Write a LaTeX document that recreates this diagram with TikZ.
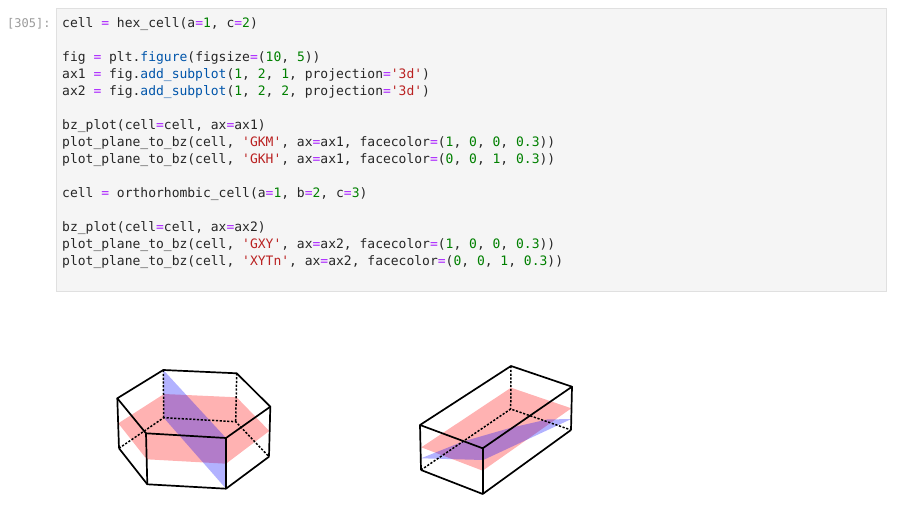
\documentclass[tikz,border=0pt]{standalone}
\usepackage{fontspec}
\setmonofont{DejaVu Sans Mono}
\definecolor{cellbg}{HTML}{F5F5F5}
\definecolor{cellline}{HTML}{E0E0E0}
\definecolor{opcol}{HTML}{AA22FF}
\definecolor{numcol}{HTML}{008000}
\definecolor{strcol}{HTML}{BA2121}
\definecolor{fncol}{HTML}{0055AA}
\definecolor{promptcol}{HTML}{9A9A9A}
\definecolor{redface}{HTML}{FF0000}
\definecolor{blueface}{HTML}{0000FF}
\newcommand{\op}{\textcolor{opcol}{=}}
\newcommand{\nm}[1]{\textcolor{numcol}{#1}}
\newcommand{\st}[1]{\textcolor{strcol}{#1}}
\newcommand{\fn}[1]{\textcolor{fncol}{#1}}

\begin{document}
\begin{tikzpicture}[x=1pt, y=-1pt,
  code/.style={anchor=base west, inner sep=0pt, font=\ttfamily\fontsize{13}{15}\selectfont, text=black!85},
  edge/.style={black, line width=1.7pt},
  hidden/.style={black, line width=1.5pt, dash pattern=on 2.2pt off 1.6pt},
  redplane/.style={fill=redface, fill opacity=0.3, draw=none},
  blueplane/.style={fill=blueface, fill opacity=0.3, draw=none}]

\useasboundingbox (0,0) rectangle (899,526);

% input cell
\draw [cellline, fill=cellbg] (56.5,8.5) rectangle (886.5,291.5);
\node [code, text=promptcol, font=\ttfamily\fontsize{12}{14}\selectfont] (prompt) at (7,27.3) {[305]:};

\node [code] (l1) at (62,27.3) {cell \op{} hex\_cell(a\op\nm{1}, c\op\nm{2})};
\node [code] (l2) at (62,61.3) {fig \op{} plt.\fn{figure}(figsize\op(\nm{10}, \nm{5}))};
\node [code] (l3) at (62,78.3) {ax1 \op{} fig.\fn{add\_subplot}(\nm{1}, \nm{2}, \nm{1}, projection\op\st{'3d'})};
\node [code] (l4) at (62,95.3) {ax2 \op{} fig.\fn{add\_subplot}(\nm{1}, \nm{2}, \nm{2}, projection\op\st{'3d'})};
\node [code] (l5) at (62,129.3) {bz\_plot(cell\op{}cell, ax\op{}ax1)};
\node [code] (l6) at (62,146.3) {plot\_plane\_to\_bz(cell, \st{'GKM'}, ax\op{}ax1, facecolor\op(\nm{1}, \nm{0}, \nm{0}, \nm{0.3}))};
\node [code] (l7) at (62,163.3) {plot\_plane\_to\_bz(cell, \st{'GKH'}, ax\op{}ax1, facecolor\op(\nm{0}, \nm{0}, \nm{1}, \nm{0.3}))};
\node [code] (l8) at (62,197.3) {cell \op{} orthorhombic\_cell(a\op\nm{1}, b\op\nm{2}, c\op\nm{3})};
\node [code] (l9) at (62,231.3) {bz\_plot(cell\op{}cell, ax\op{}ax2)};
\node [code] (l10) at (62,248.3) {plot\_plane\_to\_bz(cell, \st{'GXY'}, ax\op{}ax2, facecolor\op(\nm{1}, \nm{0}, \nm{0}, \nm{0.3}))};
\node [code] (l11) at (62,265.3) {plot\_plane\_to\_bz(cell, \st{'XYTn'}, ax\op{}ax2, facecolor\op(\nm{0}, \nm{0}, \nm{1}, \nm{0.3}))};

% hexagonal cell
\coordinate (ha) at (117.3,398.3);
\coordinate (hb) at (163.3,370);
\coordinate (hc) at (236.7,373.3);
\coordinate (hd) at (270.3,406.7);
\coordinate (he) at (226,438);
\coordinate (hf) at (146,433.3);
\coordinate (ha2) at (119,448.3);
\coordinate (hb2) at (163.7,417.7);
\coordinate (hc2) at (235.7,421.7);
\coordinate (hd2) at (269,456.7);
\coordinate (he2) at (226,488.7);
\coordinate (hf2) at (147.3,484.3);

\fill [redplane] (118.3,423.3) -- (164,394) -- (236.7,397.3) -- (269.3,431) -- (226,463.7) -- (146.7,459.3) -- cycle;
\fill [blueplane] (hb) -- (he) -- (he2) -- (hb2) -- cycle;

\draw [hidden] (ha2) -- (hb2) -- (hc2) -- (hd2);
\draw [hidden] (hb) -- (hb2);
\draw [hidden] (hc) -- (hc2);
\draw [edge, line join=round] (ha) -- (hb) -- (hc) -- (hd) -- (he) -- (hf) -- cycle;
\draw [edge, line join=round] (ha2) -- (hf2) -- (he2) -- (hd2);
\draw [edge] (ha) -- (ha2);
\draw [edge] (hf) -- (hf2);
\draw [edge] (he) -- (he2);
\draw [edge] (hd) -- (hd2);

% orthorhombic cell
\coordinate (oa) at (420,425);
\coordinate (ob) at (511,366);
\coordinate (oc) at (572,386.7);
\coordinate (od) at (482.7,448.3);
\coordinate (oa2) at (421,470);
\coordinate (ob2) at (510.7,409);
\coordinate (oc2) at (571,430);
\coordinate (od2) at (482.7,494);

\fill [redplane] (421.3,447.3) -- (511,387.7) -- (571.3,408.3) -- (482.7,470.7) -- cycle;
\fill [blueplane] (421,458.3) -- (463,441.5) -- (510,428) -- (547,419.5) -- (571.3,419) -- (483.3,460) -- cycle;

\draw [hidden] (oa2) -- (ob2) -- (oc2);
\draw [hidden] (ob) -- (ob2);
\draw [edge, line join=round] (oa) -- (ob) -- (oc) -- (od) -- cycle;
\draw [edge, line join=round] (oa2) -- (od2) -- (oc2);
\draw [edge] (oa) -- (oa2);
\draw [edge] (od) -- (od2);
\draw [edge] (oc) -- (oc2);

\end{tikzpicture}
\end{document}
